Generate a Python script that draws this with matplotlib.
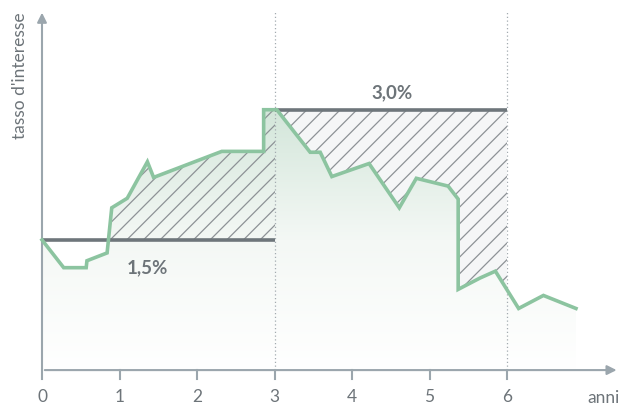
import numpy as np
import matplotlib.pyplot as plt
from matplotlib.patches import Rectangle
from matplotlib.colors import LinearSegmentedColormap

plt.rcParams['font.family'] = ['Lato', 'DejaVu Sans']
plt.rcParams['hatch.color'] = '#8d9296'
plt.rcParams['hatch.linewidth'] = 0.9

# interest rate path (anni, %)
anni = [0.0, 0.28, 0.57, 0.58, 0.84, 0.90, 1.10, 1.36, 1.44, 2.32, 2.86, 2.86,
        3.03, 3.46, 3.59, 3.74, 4.22, 4.61, 4.83, 5.24, 5.37, 5.37, 5.65, 5.85,
        6.15, 6.47, 6.89]
tasso = [1.50, 1.18, 1.18, 1.26, 1.35, 1.87, 1.98, 2.40, 2.22, 2.52, 2.52, 3.00,
         3.00, 2.51, 2.51, 2.23, 2.38, 1.87, 2.21, 2.12, 1.97, 0.93, 1.06, 1.14,
         0.71, 0.86, 0.71]

# fixed rates per period
periodi = [(0, 3), (3, 6)]
tassi_fissi = [1.5, 3.0]
etichette = ['1,5%', '3,0%']
xticks = [0, 1, 2, 3, 4, 5, 6]

green = '#8cc4a0'
dark = '#6e767b'
axis_col = '#9ba6ad'
text_col = '#6d7479'

x = np.array(anni)
y = np.array(tasso)

fig = plt.figure(figsize=(6.25, 4.06), dpi=100)
ax = fig.add_axes([0, 0, 1, 1])
ax.set_xlim(-42 / 77.5, 583 / 77.5)
ax.set_ylim(-35 / 87, 372 / 87)
ax.axis('off')

# gradient under the line
area = ax.fill_between(x, 0, y, color='none', lw=0)
cmap = LinearSegmentedColormap.from_list('g', ['#ffffff', '#f4f8f5', '#d3e6da'])
grad = np.linspace(0, 1, 256).reshape(-1, 1)
img = ax.imshow(grad, extent=(0, x[-1], 0, 3.0), origin='lower', cmap=cmap,
                aspect='auto', zorder=1)
img.set_clip_path(area.get_paths()[0], transform=ax.transData)

# hatched areas
h1 = ax.fill_between(x, tassi_fissi[0], y, where=y >= tassi_fissi[0], interpolate=True,
                     facecolor='none', edgecolor='#8d9296', hatch='//', lw=0, zorder=2)
h1.set_clip_path(Rectangle((0, -1), 3, 6, transform=ax.transData))
h2 = ax.fill_between(x, y, tassi_fissi[1], where=y <= tassi_fissi[1], interpolate=True,
                     facecolor='#f5f6f7', edgecolor='#8d9296', hatch='//', lw=0, zorder=2)
h2.set_clip_path(Rectangle((3, -1), 3, 6, transform=ax.transData))

# dotted period separators
for xv in [3, 6]:
    ax.plot([xv, xv], [0, 4.14], color='#a3abb0', lw=0.9, ls=(0, (1, 2)), zorder=1.5)

# fixed rate lines
for (a, b), r in zip(periodi, tassi_fissi):
    ax.plot([a, b], [r, r], color=dark, lw=2.6, solid_capstyle='butt', zorder=3)

ax.plot(x, y, color=green, lw=2.6, solid_joinstyle='miter', zorder=4)

ax.text(1.36, 1.19, etichette[0], color=text_col, fontsize=13.5, fontweight='bold',
        ha='center', va='center', zorder=5)
ax.text(4.52, 3.21, etichette[1], color=text_col, fontsize=13.5, fontweight='bold',
        ha='center', va='center', zorder=5)

# axes with arrows
ax.annotate('', xy=(0, 4.15), xytext=(0, -0.02),
            arrowprops=dict(arrowstyle='-|>', color=axis_col, lw=1.5, mutation_scale=14))
ax.annotate('', xy=(7.45, 0), xytext=(0, 0),
            arrowprops=dict(arrowstyle='-|>', color=axis_col, lw=1.5, mutation_scale=14))
for t in xticks:
    ax.plot([t, t], [0, -0.1], color=axis_col, lw=1.5)
    ax.text(t, -0.30, str(t), color=text_col, fontsize=12.5, ha='center', va='center')

ax.text(7.24, -0.31, 'anni', color=text_col, fontsize=12.5, ha='center', va='center')
ax.text(-0.28, 3.4, "tasso d'interesse", color=text_col, fontsize=12.5,
        rotation=90, ha='center', va='center')

fig.savefig('out.png', dpi=100)
